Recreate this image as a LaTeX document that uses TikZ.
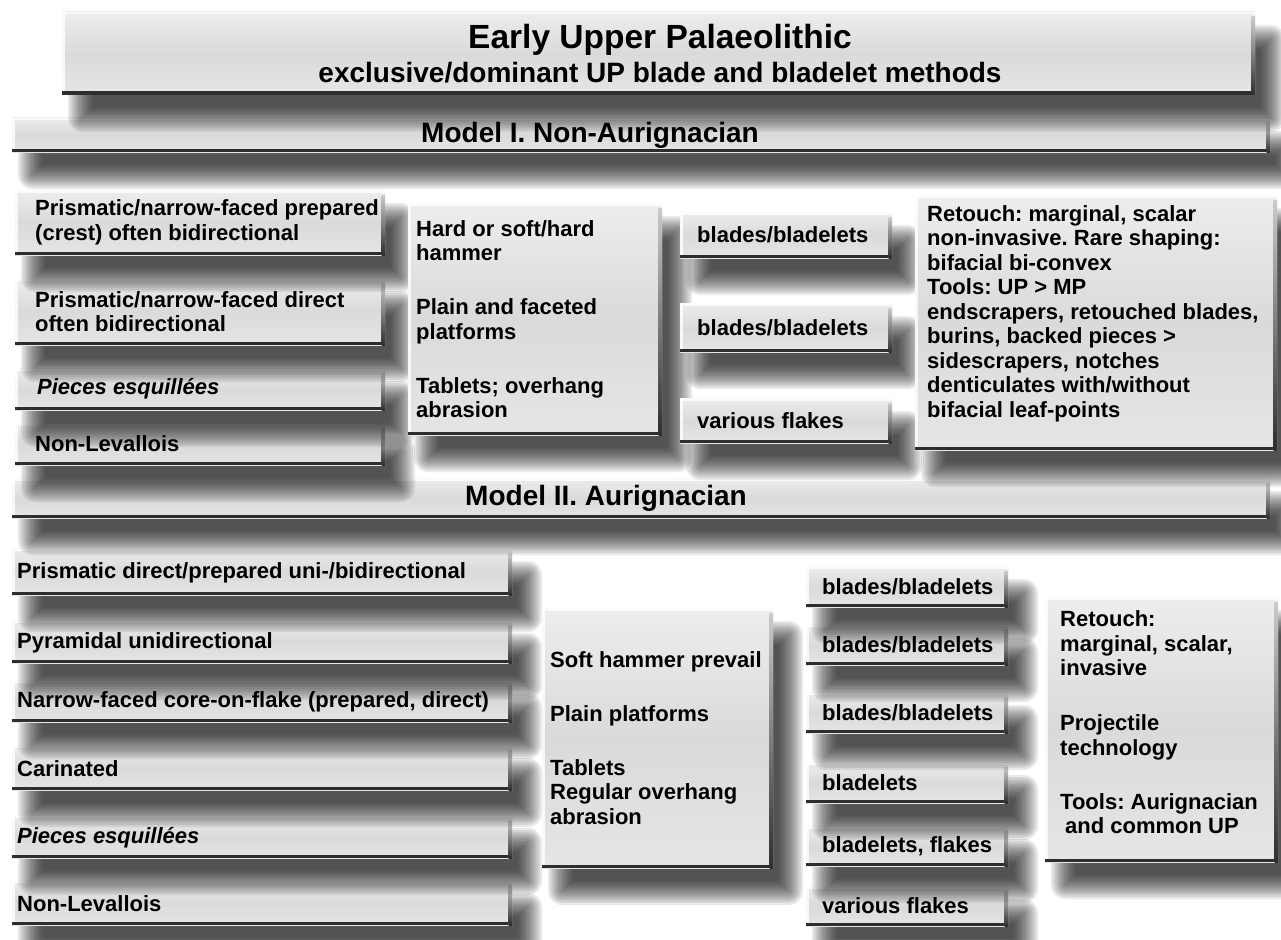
\documentclass[tikz,border=0pt]{standalone}
\usepackage{fontspec}
\setmainfont{Liberation Sans}
\frenchspacing

% panel colours
\definecolor{panelTop}{gray}{0.93}
\definecolor{panelMid}{gray}{0.855}
\definecolor{panelBot}{gray}{0.90}
\definecolor{edgeDark}{gray}{0.18}

\newcommand{\bodyfont}{\fontsize{22}{24.5}\selectfont\bfseries}

% soft drop shadow: offset and blur half-width, built from stacked translucent layers
\newcommand{\shdx}{18}
\newcommand{\shdy}{25}
\newcommand{\shdr}{12}

\tikzset{
  shadowlayer/.style={fill=black, opacity=0.085, draw=none},
  panel/.style={
    anchor=north west, inner sep=0pt, outer sep=0pt, draw=none,
    top color=panelTop, bottom color=panelBot, middle color=panelMid,
    path picture={
      \fill[white, opacity=0.8]
        (path picture bounding box.north west) rectangle
        ([yshift=-2.5pt]path picture bounding box.north east);
      \fill[white, opacity=0.8]
        (path picture bounding box.north west) rectangle
        ([xshift=2.5pt]path picture bounding box.south west);
      \fill[edgeDark]
        (path picture bounding box.south west) rectangle
        ([yshift=3.5pt]path picture bounding box.south east);
      \shade[top color=edgeDark!25, bottom color=edgeDark]
        ([xshift=-3.5pt,yshift=-5pt]path picture bounding box.north east)
        rectangle (path picture bounding box.south east);
    }
  },
  bodytext/.style={inner sep=0pt, align=left, font=\bodyfont, anchor=west},
  headtext/.style={inner sep=0pt, font=\fontsize{28}{30}\selectfont\bfseries},
  titletext/.style={inner sep=0pt, font=\fontsize{33.5}{36}\selectfont\bfseries},
}

% panel from (x1,y1) to (x2,y2) with its drop shadow
\newcommand{\mkbox}[5]{%
  \foreach \k in {0,...,11}{%
    \pgfmathsetmacro{\ofs}{\shdr-2*\shdr*\k/11}%
    \pgfmathsetmacro{\rc}{max(\ofs+2,1)}%
    \fill[shadowlayer, rounded corners=\rc pt]
      ({#2+\shdx-\ofs},{#3+\shdy-\ofs}) rectangle ({#4+\shdx+\ofs},{#5+\shdy+\ofs});
  }%
  \pgfmathsetmacro{\pnlW}{#4-#2}%
  \pgfmathsetmacro{\pnlH}{#5-#3}%
  \node[panel, minimum width=\pnlW pt, minimum height=\pnlH pt] (#1) at (#2,#3) {};
}
% panel with left-aligned text, left padding #7
\newcommand{\mkpanel}[8][]{%
  \mkbox{#2}{#3}{#4}{#5}{#6}%
  \node[bodytext, #1] (#2t) at ([xshift=#7pt]#2.west) {#8};
}

\begin{document}
\begin{tikzpicture}[x=1pt, y=-1pt]
\useasboundingbox (0,0) rectangle (1281,939);
\fill[white] (0,0) rectangle (1281,939);

% ---------- Model II: Aurignacian (drawn bottom-up so shadows fall on lower panels)
\mkpanel[yshift=-1pt]{c6}{12}{880}{512}{925}{5}{Non-Levallois}
\mkpanel[yshift=-1pt]{c5}{12}{815}{512}{858}{5}{\itshape Pieces esquillées}
\mkpanel[yshift=-1pt]{c4}{12}{745}{512}{790}{5}{Carinated}
\mkpanel[yshift=-1pt]{c3}{12}{680}{512}{722}{5}{Narrow-faced core-on-flake (prepared, direct)}
\mkpanel[yshift=-1pt]{c2}{12}{620}{512}{663}{5}{Pyramidal unidirectional}
\mkpanel[yshift=-1pt]{c1}{12}{548}{512}{595}{5}{Prismatic direct/prepared uni-/bidirectional}

\mkpanel{m2}{542}{608}{773}{868}{8}{Soft hammer prevail\\[29.5pt]Plain platforms\\[29pt]Tablets\\Regular overhang\\abrasion}

\mkpanel{s6}{806}{886}{1008}{926}{16}{various flakes}
\mkpanel{s5}{806}{826}{1008}{866}{16}{bladelets, flakes}
\mkpanel{s4}{806}{762}{1008}{803}{16}{bladelets}
\mkpanel{s3}{806}{692}{1008}{733}{16}{blades/bladelets}
\mkpanel{s2}{806}{624}{1008}{665}{16}{blades/bladelets}
\mkpanel{s1}{806}{566}{1008}{607}{16}{blades/bladelets}

\mkpanel[yshift=7pt]{r2}{1045}{597}{1278}{862}{15}{Retouch:\\marginal, scalar,\\invasive\\[30.5pt]Projectile\\technology\\[29.5pt]Tools: Aurignacian\\\hspace*{5pt}and common UP}

\mkbox{bar2}{12}{478}{1270}{518}
\node[headtext] (bar2t) at (606,498) {Model II. Aurignacian};

% ---------- Model I: Non-Aurignacian
\mkpanel{a4}{15}{423}{385}{465}{20}{Non-Levallois}
\mkpanel{a3}{15}{368}{385}{410}{22}{\itshape Pieces esquillées}
\mkpanel{a2}{15}{278}{385}{345}{20}{Prismatic/narrow-faced direct\\often bidirectional}
\mkpanel{a1}{15}{190}{385}{255}{20}{Prismatic/narrow-faced prepared\\(crest) often bidirectional}

\mkpanel{m1}{408}{203}{662}{435}{8}{Hard or soft/hard\\hammer\\[29.5pt]Plain and faceted\\platforms\\[29.5pt]Tablets; overhang\\abrasion}

\mkpanel{b3}{680}{398}{892}{443}{17}{various flakes}
\mkpanel{b2}{680}{303}{892}{352}{17}{blades/bladelets}
\mkpanel{b1}{680}{212}{892}{258}{17}{blades/bladelets}

\mkpanel[yshift=9pt]{r1}{915}{195}{1277}{450}{12}{Retouch: marginal, scalar\\non-invasive. Rare shaping:\\bifacial bi-convex\\Tools: UP > MP\\endscrapers, retouched blades,\\burins, backed pieces >\\sidescrapers, notches\\denticulates with/without\\bifacial leaf-points}

\mkbox{bar1}{12}{118}{1270}{152}
\node[headtext] (bar1t) at (590,135) {Model I. Non-Aurignacian};

% ---------- title
\mkbox{ttl}{62}{12}{1255}{95}
\node[titletext] (ttl1) at (660,40) {Early Upper Palaeolithic};
\node[headtext] (ttl2) at (660,73) {exclusive/dominant UP blade and bladelet methods};

\end{tikzpicture}
\end{document}
